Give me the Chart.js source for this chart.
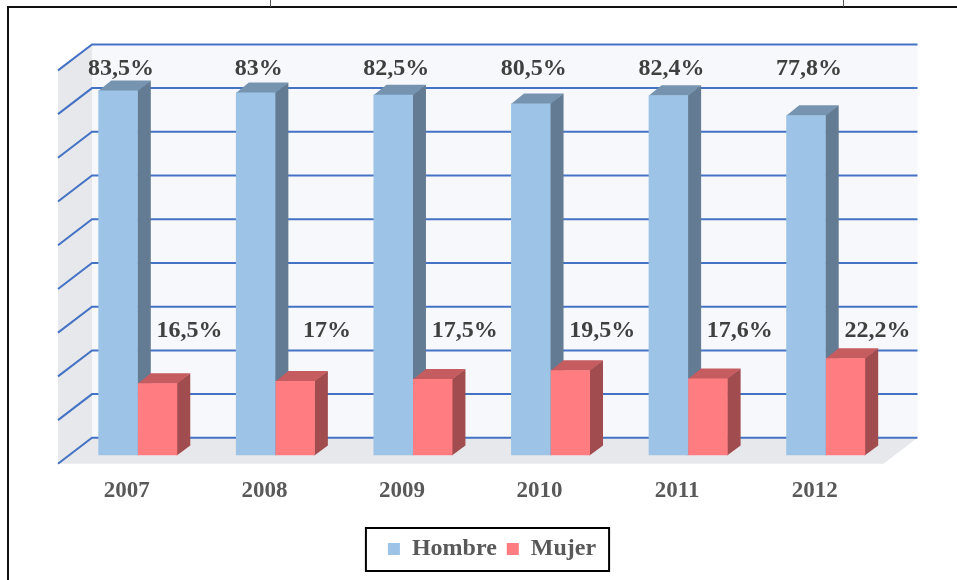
<!DOCTYPE html>
<html><head><meta charset="utf-8">
<script src="https://cdn.jsdelivr.net/npm/chart.js@4/dist/chart.umd.min.js"></script>
<style>html,body{margin:0;padding:0;background:#fff}#wrap{width:957px;height:580px;position:relative}</style>
</head><body><div id="wrap"><canvas id="c"></canvas></div>
<script>
const years = ['2007', '2008', '2009', '2010', '2011', '2012'];
const hombre = [83.5, 83, 82.5, 80.5, 82.4, 77.8];
const mujer = [16.5, 17, 17.5, 19.5, 17.6, 22.2];
const seriesNames = ['Hombre', 'Mujer'];
const yMin = 0, yMax = 90, yStep = 10;

const fmt = v => String(v).replace('.', ',') + '%';
const SERIF = "'Liberation Serif','Times New Roman',serif";

// 3D geometry (pixels)
const WALL = {dx: 23, dy: -17.6};   // back wall offset from bar front plane
const FRONT = {dx: -11, dy: 8.4};   // front edge of floor / side wall
const BAR = {dx: 13, dy: -10};      // bar depth

function poly(ctx, pts) {
  ctx.beginPath();
  ctx.moveTo(pts[0][0], pts[0][1]);
  for (let i = 1; i < pts.length; i++) ctx.lineTo(pts[i][0], pts[i][1]);
  ctx.closePath();
  ctx.fill();
}

const scene3d = {
  id: 'scene3d',
  beforeDatasetsDraw(chart) {
    const {ctx, chartArea: a, scales: {y}} = chart;
    ctx.save();
    // side wall
    ctx.fillStyle = '#e7e8eb';
    poly(ctx, [[a.left + FRONT.dx, a.top + FRONT.dy], [a.left + WALL.dx, a.top + WALL.dy],
               [a.left + WALL.dx, a.bottom + WALL.dy], [a.left + FRONT.dx, a.bottom + FRONT.dy]]);
    // floor
    poly(ctx, [[a.left + WALL.dx, a.bottom + WALL.dy], [a.right + WALL.dx, a.bottom + WALL.dy],
               [a.right + FRONT.dx, a.bottom + FRONT.dy], [a.left + FRONT.dx, a.bottom + FRONT.dy]]);
    // back wall
    ctx.fillStyle = '#f6f8fc';
    ctx.fillRect(a.left + WALL.dx, a.top + WALL.dy, a.right - a.left, a.bottom - a.top);
    // gridlines
    ctx.strokeStyle = '#4472c4';
    ctx.lineWidth = 2;
    y.ticks.forEach(t => {
      const py = y.getPixelForValue(t.value);
      ctx.beginPath();
      ctx.moveTo(a.left + FRONT.dx, py + FRONT.dy);
      ctx.lineTo(a.left + WALL.dx, py + WALL.dy);
      ctx.lineTo(a.right + WALL.dx, py + WALL.dy);
      ctx.stroke();
    });
    // bar sides and tops
    chart.data.datasets.forEach((ds, di) => {
      const meta = chart.getDatasetMeta(di);
      meta.data.forEach(bar => {
        const p = bar.getProps(['x', 'y', 'base', 'width'], true);
        const l = p.x - p.width / 2, r = p.x + p.width / 2;
        ctx.fillStyle = ds.sideColor;
        poly(ctx, [[r - 0.5, p.y], [r + BAR.dx, p.y + BAR.dy], [r + BAR.dx, p.base + BAR.dy], [r - 0.5, p.base]]);
        ctx.fillStyle = ds.topColor;
        poly(ctx, [[l, p.y + 0.5], [l + BAR.dx, p.y + BAR.dy], [r + BAR.dx, p.y + BAR.dy], [r, p.y + 0.5]]);
      });
    });
    ctx.restore();
  },
  afterDatasetsDraw(chart) {
    const {ctx, scales: {y}, chartArea: a} = chart;
    ctx.save();
    ctx.font = 'bold 24px ' + SERIF;
    ctx.fillStyle = '#404040';
    ctx.textAlign = 'center';
    ctx.textBaseline = 'middle';
    chart.data.datasets.forEach((ds, di) => {
      const meta = chart.getDatasetMeta(di);
      meta.data.forEach((bar, i) => {
        const v = ds.data[i];
        if (di === 0) {
          ctx.fillText(fmt(v), bar.x + 3, a.top + 6.5);
        } else {
          ctx.fillText(fmt(v), bar.x + 32, y.getPixelForValue(28.4));
        }
      });
    });
    ctx.restore();
  },
  afterDraw(chart) {
    const {ctx} = chart;
    const lg = chart.legend;
    ctx.save();
    // legend frame
    if (lg && lg.legendHitBoxes && lg.legendHitBoxes.length) {
      const hb = lg.legendHitBoxes;
      const x0 = hb[0].left - 22;
      const last = hb[hb.length - 1];
      const x1 = last.left + last.width + 13;
      ctx.strokeStyle = '#000';
      ctx.lineWidth = 2;
      ctx.strokeRect(x0, lg.top + 1, x1 - x0, lg.bottom - lg.top - 1);
    }
    // outer frame
    ctx.strokeStyle = '#111';
    ctx.lineWidth = 2;
    ctx.beginPath();
    ctx.moveTo(8, 580);
    ctx.lineTo(8, 7);
    ctx.lineTo(957, 7);
    ctx.stroke();
    ctx.lineWidth = 1;
    ctx.strokeStyle = '#555';
    ctx.beginPath();
    ctx.moveTo(270.5, 0); ctx.lineTo(270.5, 7);
    ctx.moveTo(843.5, 0); ctx.lineTo(843.5, 7);
    ctx.stroke();
    ctx.restore();
  }
};

new Chart(document.getElementById('c'), {
  type: 'bar',
  data: {
    labels: years,
    datasets: [
      {label: seriesNames[0], data: hombre, backgroundColor: '#9dc3e6', sideColor: '#637b93', topColor: '#7694b0', borderWidth: 0},
      {label: seriesNames[1], data: mujer, backgroundColor: '#ff7c80', sideColor: '#a14c4f', topColor: '#c55c5f', borderWidth: 0}
    ]
  },
  options: {
    responsive: true,
    maintainAspectRatio: false,
    animation: false,
    layout: {padding: {left: 69, right: 42, top: 62, bottom: 9}},
    datasets: {bar: {categoryPercentage: 0.574, barPercentage: 1}},
    scales: {
      x: {
        grid: {display: false, drawTicks: false},
        border: {display: false},
        ticks: {color: '#595959', font: {family: SERIF, size: 23, weight: 'bold'}, padding: 22, labelOffset: -11}
      },
      y: {
        position: 'right',
        min: yMin, max: yMax,
        ticks: {stepSize: yStep, display: false},
        grid: {display: false, drawTicks: false},
        border: {display: false},
        afterFit(s) { s.width = 20.5; }
      }
    },
    plugins: {
      legend: {
        position: 'bottom',
        labels: {boxWidth: 12, boxHeight: 12, padding: 10, color: '#595959',
                 font: {family: SERIF, size: 24, weight: 'bold'}}
      },
      tooltip: {enabled: false}
    }
  },
  plugins: [scene3d]
});
</script>
</body></html>
